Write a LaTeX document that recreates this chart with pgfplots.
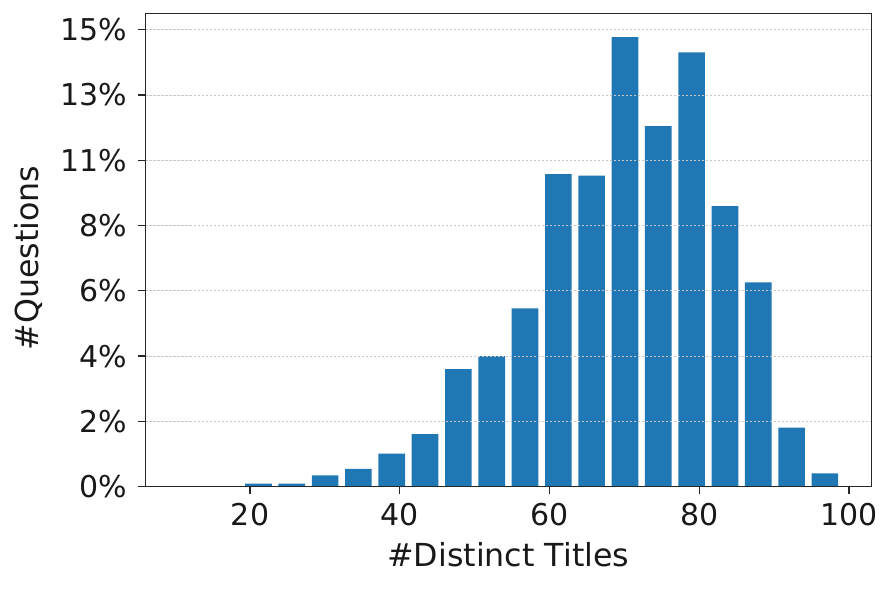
\documentclass[border=0pt]{standalone}
\usepackage{fontspec}
\setmainfont{DejaVu Sans}
\usepackage{pgfplots}
\pgfplotsset{compat=1.18}
\definecolor{barblue}{HTML}{1F77B4}
\begin{document}
\begin{tikzpicture}
\begin{axis}[
  at={(0,0)}, anchor=south west,
  scale only axis, width=725.7pt, height=473.4pt,
  xmin=6.04, xmax=102.96, ymin=0, ymax=15.30,
  ybar, bar width=3.56, bar shift=0pt,
  xtick={20,40,60,80,100},
  ytick={0,2.11,4.22,6.33,8.44,10.55,12.66,14.77},
  yticklabels={0\%,2\%,4\%,6\%,8\%,11\%,13\%,15\%},
  /pgf/number format/assume math mode=true,
  tick pos=left, tick align=outside, major tick length=7pt,
  ymajorgrids, xmajorgrids=false,
  grid style={dash pattern=on 2.5pt off 1.5pt, line width=0.8pt, color=black!22},
  axis on top,
  axis line style={line width=1.3pt, black!85},
  tick style={line width=1.3pt, black!85},
  ticklabel style={font=\fontsize{30}{36}\selectfont, text=black!90},
  xticklabel style={anchor=north, inner sep=0pt, yshift=-9pt},
  yticklabel style={anchor=east, inner sep=0pt, xshift=-11pt},
  label style={font=\fontsize{31.7}{38}\selectfont, text=black!90},
  xlabel={\#Distinct Titles},
  ylabel={\#Questions},
  xlabel style={at={(axis description cs:0.5,-0.1696)}, anchor=base, inner sep=0pt},
  ylabel style={at={(axis description cs:-0.148,0.483)}, anchor=base, inner sep=0pt},
]
\addplot[fill=barblue, draw=none] coordinates {
(21.125,0.097) (25.575,0.097) (30.025,0.37) (34.475,0.58) (38.925,1.07)
(43.375,1.70) (47.825,3.80) (52.275,4.22) (56.725,5.76) (61.175,10.10)
(65.625,10.05) (70.075,14.53) (74.525,11.65) (78.975,14.04) (83.425,9.07)
(87.875,6.60) (92.325,1.91) (96.775,0.43)
};
\end{axis}
\path[use as bounding box] (-145.5pt,-104.3pt) rectangle (747.5pt,486.7pt);
\end{tikzpicture}
\end{document}
